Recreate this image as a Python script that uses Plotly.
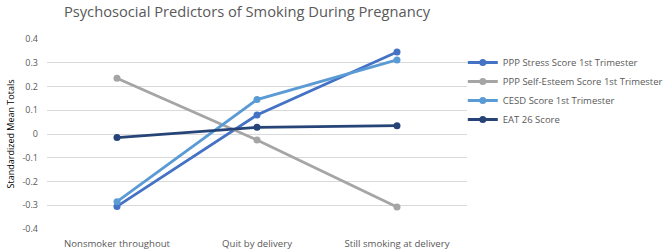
import plotly.graph_objects as go

categories = ["Nonsmoker throughout", "Quit by delivery", "Still smoking at delivery"]
series_names = ["PPP Stress Score 1st Trimester", "PPP Self-Esteem Score 1st Trimester",
                "CESD Score 1st Trimester", "EAT 26 Score"]
stress = [-0.305, 0.08, 0.345]
self_esteem = [0.235, -0.025, -0.307]
cesd = [-0.285, 0.145, 0.312]
eat26 = [-0.015, 0.028, 0.035]
y_ticks = [-0.4, -0.3, -0.2, -0.1, 0, 0.1, 0.2, 0.3, 0.4]
y_tick_labels = ["-0.4", "-0.3", "-0.2", "-0.1", "0", "0.1", "0.2", "0.3", "0.4"]
colors = ["#4472C4", "#A5A5A5", "#5B9BD5", "#264478"]

fig = go.Figure()
for name, vals, col in zip(series_names, [stress, self_esteem, cesd, eat26], colors):
    fig.add_trace(go.Scatter(x=categories, y=vals, name=name, mode="lines+markers",
                             line=dict(color=col, width=2.8),
                             marker=dict(color=col, size=7)))

font_family = "Open Sans, Liberation Sans, sans-serif"
fig.update_layout(
    width=664, height=251,
    margin=dict(l=47, r=197, t=39, b=22, autoexpand=False),
    paper_bgcolor="white", plot_bgcolor="white",
    font=dict(family=font_family, color="#595959", size=9),
    title=dict(text="Psychosocial Predictors of Smoking During Pregnancy",
               x=247/664, xanchor="center", xref="container",
               y=1 - 12/251, yanchor="middle", yref="container",
               font=dict(size=14.7, color="#595959", family=font_family)),
    showlegend=True,
    legend=dict(x=0.99, xanchor="left", y=1 - (48 - 39) / 190, yanchor="top",
                font=dict(size=9.5, color="#595959"), bgcolor="rgba(0,0,0,0)",
                tracegroupgap=0),
)
fig.update_xaxes(type="category", range=[-0.5, 2.5], showgrid=False, showline=False,
                 zeroline=False, ticks="", ticklabelstandoff=7, automargin=False,
                 tickfont=dict(size=9.6, color="#595959"))
fig.update_yaxes(range=[-0.4, 0.4], tickvals=y_ticks, ticktext=y_tick_labels,
                 showgrid=True, gridcolor="#D9D9D9", gridwidth=1, zeroline=False,
                 showline=False, ticks="", ticklen=0, ticklabelstandoff=8,
                 automargin=False,
                 tickfont=dict(size=9, color="#595959"),
                 title=dict(text="Standardized Mean Totals", standoff=6,
                            font=dict(size=9, color="#000000")))
fig.write_html("out.html", config={"displayModeBar": False},
               post_script="document.body.style.margin='0';")
